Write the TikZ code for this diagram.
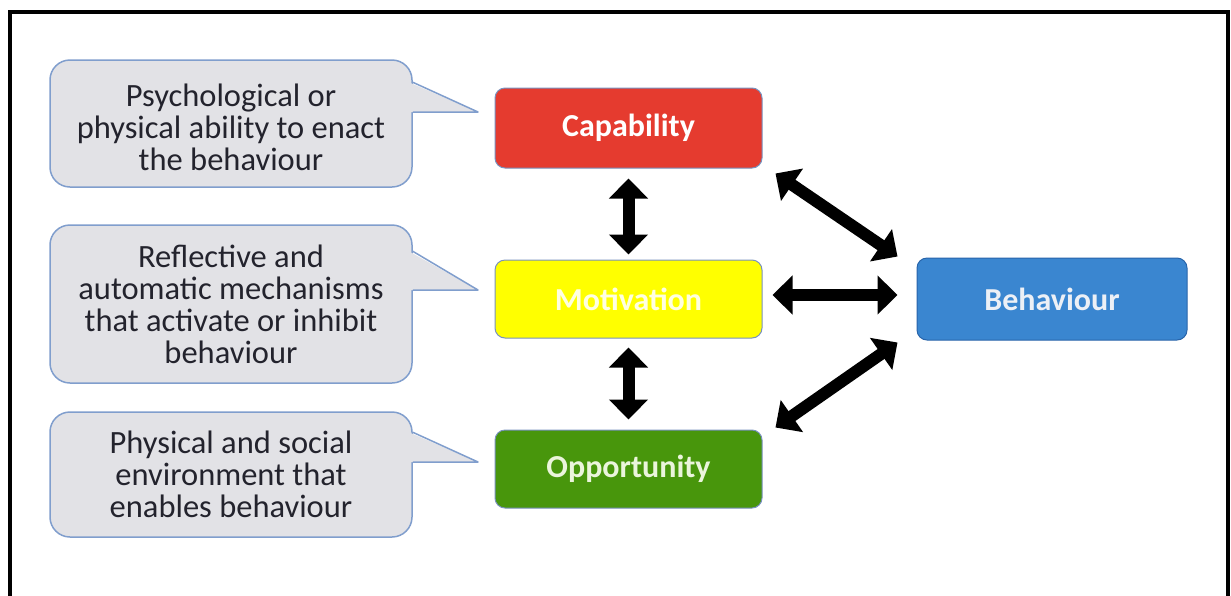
\documentclass[tikz,border=0pt]{standalone}
\usepackage{fontspec}
\setmainfont{Carlito}
\usetikzlibrary{arrows.meta,calc}

\definecolor{capred}{RGB}{229,59,47}
\definecolor{motyellow}{RGB}{255,255,0}
\definecolor{oppgreen}{RGB}{72,150,12}
\definecolor{behblue}{RGB}{58,134,208}
\definecolor{behedge}{RGB}{40,100,170}
\definecolor{boxedge}{RGB}{120,145,190}
\definecolor{calfill}{RGB}{226,226,230}
\definecolor{caledge}{RGB}{128,158,205}
\definecolor{caltext}{RGB}{35,35,45}

\begin{document}
\begin{tikzpicture}[x=1pt,y=-1pt,
  mainbox/.style={draw=boxedge, line width=1pt, rounded corners=10pt,
    minimum width=267pt, minimum height=80pt, inner sep=0pt,
    font=\fontsize{32}{36}\selectfont\bfseries},
  callbox/.style={draw=caledge, fill=calfill, line width=1.5pt, rounded corners=20pt,
    minimum width=362pt, inner sep=0pt},
  calltext/.style={inner sep=0pt, align=center, text=caltext,
    font=\fontsize{32.5}{32}\selectfont},
  calline/.style={draw=caledge, line width=1.5pt, line join=round},
  bigarrow/.style={line width=12pt,
    {Triangle[width=38pt,length=20pt]}-{Triangle[width=38pt,length=20pt]}}
]
\useasboundingbox (0,0) rectangle (1231,595);
\fill[white] (0,0) rectangle (1231,595);

% outer frame, open at the bottom edge
\draw[line width=3.5pt] (10,640) -- (10,12) -- (1228,12) -- (1228,640);

% the four components
\node[mainbox, fill=capred, text=white] (cap) at (628.5,128) {Capability};
\node[mainbox, fill=motyellow, minimum height=78pt, text={rgb,255:red,255;green,255;blue,225}] (mot) at (628.5,299) {Motivation};
\node[mainbox, fill=oppgreen, minimum height=78pt, text={rgb,255:red,235;green,245;blue,220}] (opp) at (628.5,469) {Opportunity};
\node[mainbox, fill=behblue, draw=behedge, minimum width=270pt, minimum height=82pt, text={rgb,255:red,236;green,240;blue,246}] (beh) at (1052,299) {Behaviour};

% callout bodies
\node[callbox, minimum height=127pt] (cb1) at (231,123.5) {};
\node[callbox, minimum height=158pt] (cb2) at (231,304) {};
\node[callbox, minimum height=125pt] (cb3) at (231,474.5) {};

% callout pointers
\coordinate (t1) at (478,112);
\coordinate (t2) at (478,290);
\coordinate (t3) at (478,462);
\fill[calfill] ($(cb1.north east)+(-4,23)$) -- (t1) -- ($(cb1.east |- t1)+(-4,0)$) -- cycle;
\draw[calline] ($(cb1.north east)+(0,23)$) -- (t1) -- (cb1.east |- t1);
\fill[calfill] ($(cb2.north east)+(-4,27)$) -- (t2) -- ($(cb2.east |- t2)+(-4,0)$) -- cycle;
\draw[calline] ($(cb2.north east)+(0,27)$) -- (t2) -- (cb2.east |- t2);
\fill[calfill] ($(cb3.north east)+(-4,21)$) -- (t3) -- ($(cb3.east |- t3)+(-4,0)$) -- cycle;
\draw[calline] ($(cb3.north east)+(0,21)$) -- (t3) -- (cb3.east |- t3);

% callout texts
\node[calltext] (cb1text) at ($(cb1.center)+(0,4)$)
  {Psychological or\\physical ability to enact\\the behaviour};
\node[calltext] (cb2text) at (cb2.center)
  {Reflective and\\automatic mechanisms\\that activate or inhibit\\behaviour};
\node[calltext] (cb3text) at (cb3.center)
  {Physical and social\\environment that\\enables behaviour};

% two-way links
\draw[bigarrow, shorten <=10pt, shorten >=5pt] (cap.south) -- (mot.north);
\draw[bigarrow, shorten <=9pt, shorten >=10pt] (mot.south) -- (opp.north);
\draw[bigarrow] ($(mot.east)+(10,-4)$) -- ($(beh.west)+(-19,-4)$);
\draw[bigarrow] ($(cap.south east)+(13,5)$) -- ($(beh.north west)+(-19,-1)$);
\draw[bigarrow] ($(opp.north east)+(13,-2)$) -- ($(beh.south west)+(-19,2)$);
\end{tikzpicture}
\end{document}
